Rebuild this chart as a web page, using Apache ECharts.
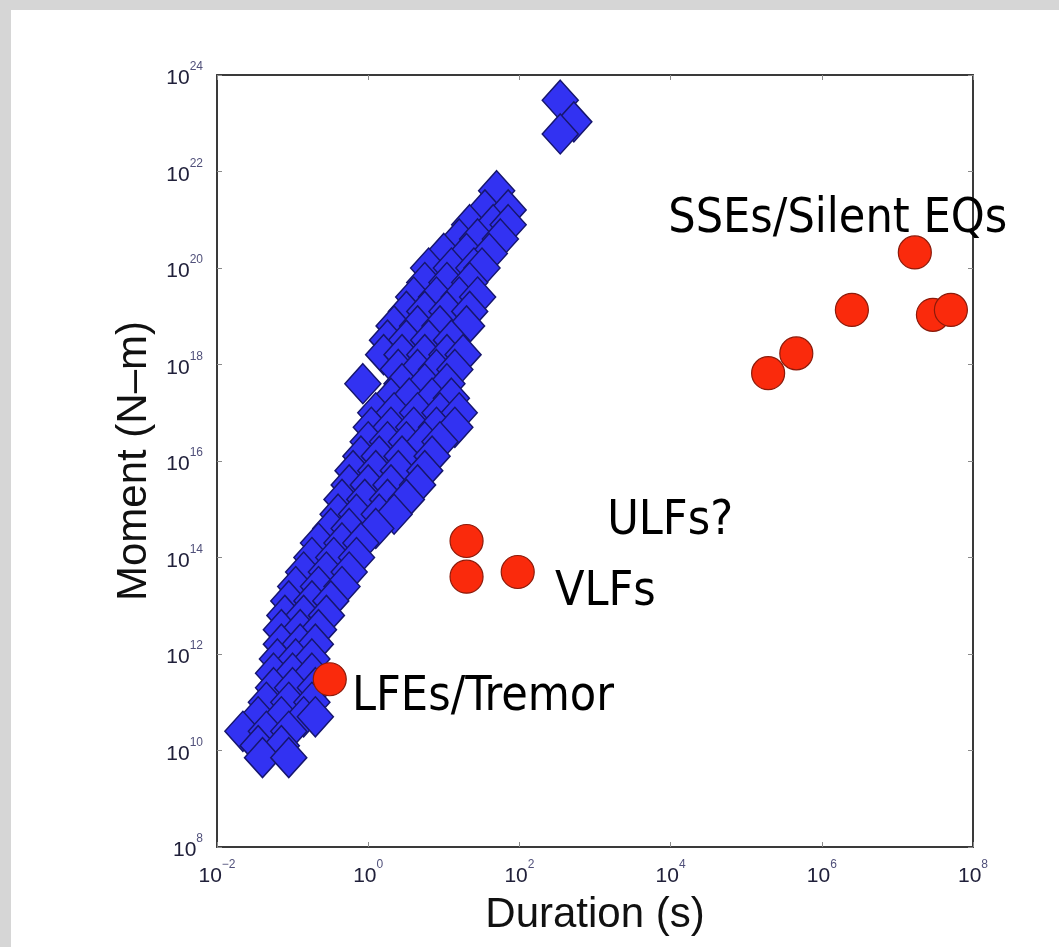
<!DOCTYPE html>
<html>
<head>
<meta charset="utf-8">
<title>Moment vs Duration</title>
<script src="https://cdn.jsdelivr.net/npm/echarts@6/dist/echarts.min.js"></script>
<style>
  html, body { margin: 0; padding: 0; background: #ffffff; }
  #chart { width: 1059px; height: 947px; }
</style>
</head>
<body>
<div id="chart"></div>
<script>
// Regular earthquakes: duration (s) and seismic moment (N-m)
const eqDuration = [
  50,
  35, 71,
  22, 45, 71,
  16, 28, 56,
  10, 20, 40,
  6.3, 12.6, 25, 32,
  5.6, 11, 22,
  4, 8, 16, 28,
  3.2, 5.6, 11, 22,
  2.2, 4.5, 8.9, 20,
  1.8, 3.2, 6.3, 12.6,
  1.6, 2.8, 5.6, 11, 18,
  2.5, 4.5, 8, 14,
  0.85, 2.8, 5.6, 11,
  2, 3.5, 7, 12.6,
  1.26, 2.2, 4.5, 8.9, 16,
  1.1, 2, 4, 8, 14,
  1, 1.8, 3.2, 5.6, 8.9,
  0.8, 1.4, 2.8, 7,
  0.63, 1.26, 2.5, 5.6,
  0.56, 1, 2, 4.5,
  0.45, 0.9, 1.8, 3.2,
  0.4, 0.7, 1.4, 2.2,
  0.32, 0.56, 1.26,
  0.22, 0.45, 0.8,
  0.18, 0.35, 0.7,
  0.14, 0.28, 0.56,
  0.11, 0.22, 0.45,
  0.089, 0.18, 0.32,
  0.079, 0.14, 0.28,
  0.071, 0.126, 0.22,
  0.071, 0.126, 0.2,
  0.063, 0.11, 0.18,
  0.056, 0.1, 0.18,
  0.056, 0.1, 0.2,
  0.045, 0.089, 0.18,
  0.035, 0.071, 0.14, 0.2,
  0.022, 0.045, 0.089,
  0.035, 0.071,
  0.04, 0.089,
  347, 525, 347
];
const eqMoment = [
  4.0e21,
  1.6e21, 1.6e21,
  7.9e20, 7.9e20, 7.9e20,
  4.0e20, 4.0e20, 4.0e20,
  2.0e20, 2.0e20, 2.0e20,
  1.0e20, 1.0e20, 1.0e20, 1.0e20,
  5.0e19, 5.0e19, 5.0e19,
  2.5e19, 2.5e19, 2.5e19, 2.5e19,
  1.26e19, 1.26e19, 1.26e19, 1.26e19,
  6.3e18, 6.3e18, 6.3e18, 6.3e18,
  3.2e18, 3.2e18, 3.2e18, 3.2e18,
  1.6e18, 1.6e18, 1.6e18, 1.6e18, 1.6e18,
  7.9e17, 7.9e17, 7.9e17, 7.9e17,
  4.0e17, 4.0e17, 4.0e17, 4.0e17,
  2.0e17, 2.0e17, 2.0e17, 2.0e17,
  1.0e17, 1.0e17, 1.0e17, 1.0e17, 1.0e17,
  5.0e16, 5.0e16, 5.0e16, 5.0e16, 5.0e16,
  2.5e16, 2.5e16, 2.5e16, 2.5e16, 2.5e16,
  1.26e16, 1.26e16, 1.26e16, 1.26e16,
  6.3e15, 6.3e15, 6.3e15, 6.3e15,
  3.2e15, 3.2e15, 3.2e15, 3.2e15,
  1.6e15, 1.6e15, 1.6e15, 1.6e15,
  7.9e14, 7.9e14, 7.9e14, 7.9e14,
  4.0e14, 4.0e14, 4.0e14,
  2.0e14, 2.0e14, 2.0e14,
  1.0e14, 1.0e14, 1.0e14,
  5.0e13, 5.0e13, 5.0e13,
  2.5e13, 2.5e13, 2.5e13,
  1.26e13, 1.26e13, 1.26e13,
  6.3e12, 6.3e12, 6.3e12,
  3.2e12, 3.2e12, 3.2e12,
  1.6e12, 1.6e12, 1.6e12,
  7.9e11, 7.9e11, 7.9e11,
  4.0e11, 4.0e11, 4.0e11,
  2.0e11, 2.0e11, 2.0e11,
  1.0e11, 1.0e11, 1.0e11,
  5.0e10, 5.0e10, 5.0e10, 5.0e10,
  2.5e10, 2.5e10, 2.5e10,
  1.26e10, 1.26e10,
  7.1e9, 7.1e9,
  3.0e23, 1.07e23, 6.0e22
];

// Slow earthquakes: LFEs, VLFs, SSEs
const slowDuration = [0.31, 20, 20, 95, 1.95e5, 4.6e5, 2.5e6, 1.7e7, 2.95e7, 5.1e7];
const slowMoment   = [3e11, 2.2e14, 4e13, 5e13, 6.6e17, 1.7e18, 1.35e19, 2.1e20, 1.07e19, 1.35e19];

// Class annotations, anchored at the left-middle of each text
const noteText     = ['LFEs/Tremor', 'VLFs', 'ULFs?', 'SSEs/Silent EQs'];
const noteDuration = [0.61, 295, 1450, 9300];
const noteMoment   = [1.27e11, 1.86e13, 5.5e14, 1.0e21];

// Axis ranges
const durationRange = [1e-2, 1e8];
const momentRange   = [1e8, 1e24];

const sansFont = "'Liberation Sans', Arial, Helvetica, sans-serif";
const noteFont = "'DejaVu Sans Condensed', 'Liberation Sans', sans-serif";

const zip = (a, b) => a.map((v, i) => [v, b[i]]);

function powLabel(v) {
  const e = Math.round(Math.log10(v));
  return '{b|10}{s|' + String(e).replace('-', '\u2212') + '}';
}
const labelRich = {
  b: { fontSize: 21, lineHeight: 28, color: '#20203a', fontFamily: sansFont, verticalAlign: 'bottom' },
  s: { fontSize: 12, lineHeight: 14, color: '#50507a', fontFamily: sansFont, verticalAlign: 'top' }
};

const frameLine = { show: true, lineStyle: { color: '#3a3a3a', width: 2 } };
const innerTick = { show: true, inside: true, length: 5, lineStyle: { color: '#8a8a8a', width: 1 } };

const chart = echarts.init(document.getElementById('chart'), null, { renderer: 'canvas' });

chart.setOption({
  animation: false,
  backgroundColor: '#ffffff',
  graphic: [
    { type: 'rect', left: 0, top: 0, shape: { width: 1059, height: 10 }, style: { fill: '#d6d6d6' }, silent: true },
    { type: 'rect', left: 0, top: 0, shape: { width: 11, height: 947 }, style: { fill: '#d6d6d6' }, silent: true }
  ],
  grid: { left: 217, top: 75, width: 756, height: 772, containLabel: false },
  xAxis: [
    {
      type: 'log', logBase: 10, min: durationRange[0], max: durationRange[1], interval: 2,
      name: 'Duration (s)', nameLocation: 'middle', nameGap: 47,
      nameTextStyle: { fontSize: 42, fontFamily: sansFont, color: '#111111' },
      axisLine: frameLine, axisTick: innerTick, splitLine: { show: false }, minorTick: { show: false },
      axisLabel: { margin: 12, formatter: powLabel, rich: labelRich }
    },
    {
      type: 'log', logBase: 10, min: durationRange[0], max: durationRange[1], interval: 2, position: 'top',
      axisLine: frameLine, axisTick: innerTick, axisLabel: { show: false }, splitLine: { show: false }
    }
  ],
  yAxis: [
    {
      type: 'log', logBase: 10, min: momentRange[0], max: momentRange[1], interval: 2,
      name: 'Moment (N\u2013m)', nameLocation: 'middle', nameGap: 62,
      nameTextStyle: { fontSize: 42, fontFamily: sansFont, color: '#111111' },
      axisLine: frameLine, axisTick: innerTick, splitLine: { show: false }, minorTick: { show: false },
      axisLabel: { margin: 14, formatter: powLabel, rich: labelRich }
    },
    {
      type: 'log', logBase: 10, min: momentRange[0], max: momentRange[1], interval: 2, position: 'right',
      axisLine: frameLine, axisTick: innerTick, axisLabel: { show: false }, splitLine: { show: false }
    }
  ],
  series: [
    {
      name: 'Earthquakes', type: 'scatter', xAxisIndex: 0, yAxisIndex: 0,
      symbol: 'diamond', symbolSize: [36, 40],
      itemStyle: { color: '#3232f2', borderColor: '#16166e', borderWidth: 1.5, opacity: 1 },
      data: zip(eqDuration, eqMoment), z: 2
    },
    {
      name: 'Slow events', type: 'scatter', xAxisIndex: 0, yAxisIndex: 0,
      symbol: 'circle', symbolSize: 33,
      itemStyle: { color: '#fa2a0c', borderColor: '#8c1a0a', borderWidth: 1.2, opacity: 1 },
      data: zip(slowDuration, slowMoment), z: 3
    },
    {
      name: 'Notes', type: 'scatter', xAxisIndex: 0, yAxisIndex: 0,
      symbolSize: 0, silent: true, clip: false,
      itemStyle: { opacity: 1 },
      label: {
        show: true, position: 'right', distance: 0,
        formatter: p => p.name,
        fontSize: 48, fontFamily: noteFont, color: '#000000', opacity: 1
      },
      data: noteText.map((t, i) => ({ name: t, value: [noteDuration[i], noteMoment[i]] })), z: 4
    }
  ]
});
</script>
</body>
</html>
